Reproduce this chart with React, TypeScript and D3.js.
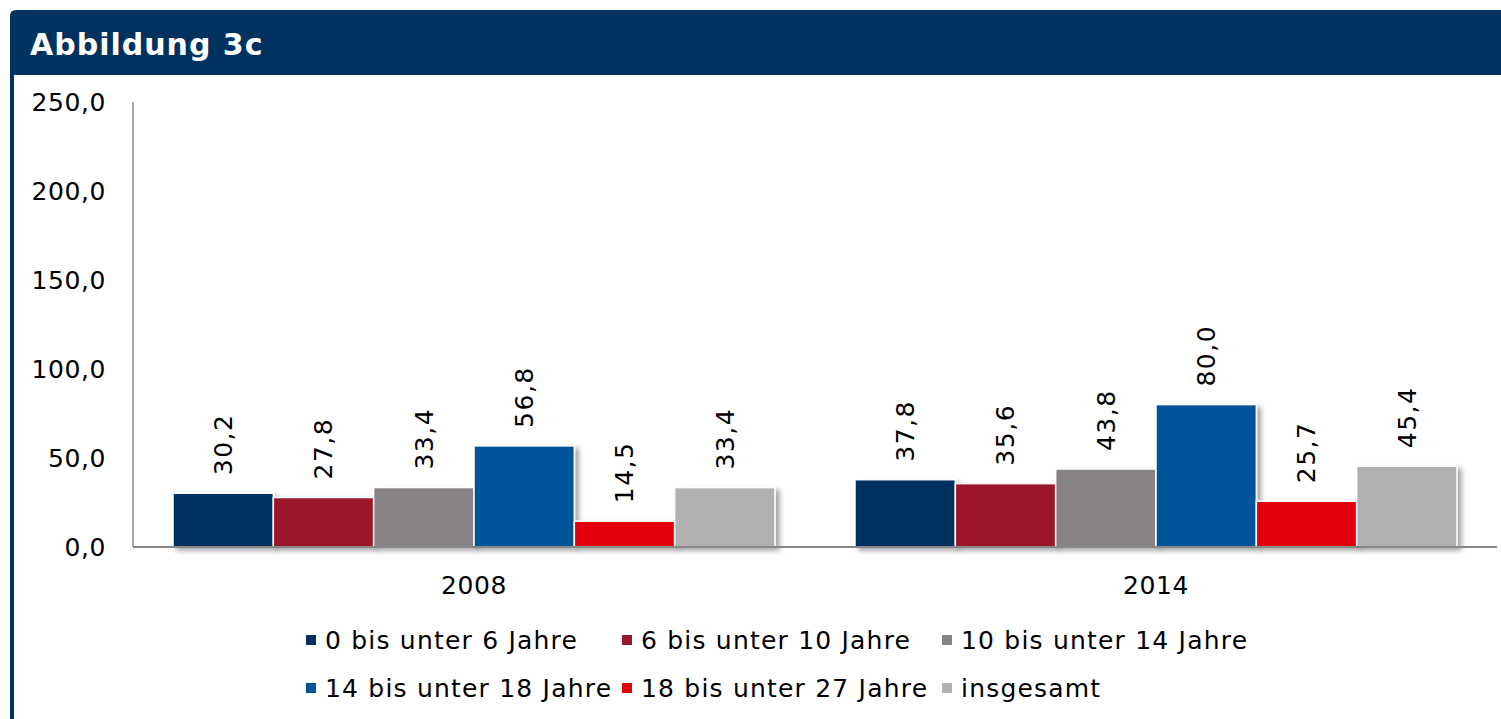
import React from "react";
import * as d3 from "d3";

const years = ["2008", "2014"];
const seriesNames = [
  "0 bis unter 6 Jahre",
  "6 bis unter 10 Jahre",
  "10 bis unter 14 Jahre",
  "14 bis unter 18 Jahre",
  "18 bis unter 27 Jahre",
  "insgesamt",
];
const seriesColors = ["#00325F", "#9B192C", "#878285", "#00549A", "#E3000F", "#B2B1B1"];
const values2008 = [30.2, 27.8, 33.4, 56.8, 14.5, 33.4];
const values2014 = [37.8, 35.6, 43.8, 80.0, 25.7, 45.4];
const yTicks = [0, 50, 100, 150, 200, 250];

const W = 1501;
const H = 719;
const FONT = "'DejaVu Sans', Verdana, sans-serif";
const fmt = (v: number) => v.toFixed(1).replace(".", ",");

export default function App() {
  const data = [values2008, values2014];
  const left = 133, right = 1497, top = 102, bottom = 547;
  const y = d3.scaleLinear().domain([0, 250]).range([bottom, top]);
  const x0 = d3.scaleBand<string>().domain(years).range([left, right]).paddingInner(0).paddingOuter(0);
  const inner = d3
    .scaleBand<number>()
    .domain(d3.range(seriesNames.length))
    .range([40, x0.bandwidth() - 40])
    .paddingInner(0);

  const legendPos = [
    [306, 640], [622, 640], [942, 640],
    [306, 688], [622, 688], [942, 688],
  ];

  return (
    <svg
      width={W}
      height={H}
      style={{ position: "absolute", left: 0, top: 0, background: "#fff" }}
      fontFamily={FONT}
    >
      <defs>
        <filter id="shadow" x="-20%" y="-20%" width="150%" height="150%">
          <feDropShadow dx="4" dy="3" stdDeviation="2.5" floodColor="#000" floodOpacity="0.35" />
        </filter>
      </defs>
      {/* frame */}
      <path d={`M10,${H} L10,16 Q10,10 16,10 L${W},10 L${W},75 L14,75 L14,${H} Z`} fill="#00325F" />
      <text x={30} y={55} fill="#fff" fontSize={30} fontWeight="bold" letterSpacing={1}>Abbildung 3c</text>

      {/* y axis */}
      <line x1={left} x2={left} y1={top} y2={bottom} stroke="#888" strokeWidth={1.5} />
      {yTicks.map((t) => (
        <text key={t} x={106} y={y(t)} dy="0.35em" textAnchor="end" fontSize={25} letterSpacing={0.6} fill="#000">
          {fmt(t)}
        </text>
      ))}

      {/* bars */}
      {years.map((yr, gi) => (
        <g key={yr} transform={`translate(${x0(yr)},0)`}>
          {data[gi].map((v, si) => (
            <rect
              key={si}
              x={inner(si)!}
              y={y(v)}
              width={inner.bandwidth()}
              height={bottom - y(v)}
              fill={seriesColors[si]}
              stroke="#fff"
              strokeWidth={1.5}
              filter="url(#shadow)"
            />
          ))}
          {data[gi].map((v, si) => {
            const cx = inner(si)! + inner.bandwidth() / 2;
            const ty = y(v) - 18;
            return (
              <text
                key={"l" + si}
                transform={`translate(${cx},${ty}) rotate(-90)`}
                dy="0.35em"
                textAnchor="start"
                fontSize={25}
                letterSpacing={1.5}
                fill="#000"
              >
                {fmt(v)}
              </text>
            );
          })}
          <text x={x0.bandwidth() / 2} y={585} dy="0.35em" textAnchor="middle" fontSize={25} letterSpacing={0.6} fill="#000">
            {yr}
          </text>
        </g>
      ))}

      {/* x axis */}
      <line x1={left} x2={right} y1={bottom} y2={bottom} stroke="#888" strokeWidth={2} />

      {/* legend */}
      {seriesNames.map((n, i) => (
        <g key={n} transform={`translate(${legendPos[i][0]},${legendPos[i][1]})`}>
          <rect x={0} y={-5} width={10} height={10} fill={seriesColors[i]} />
          <text x={19} y={0} dy="0.35em" fontSize={25} letterSpacing={1.2} fill="#000">{n}</text>
        </g>
      ))}
    </svg>
  );
}
